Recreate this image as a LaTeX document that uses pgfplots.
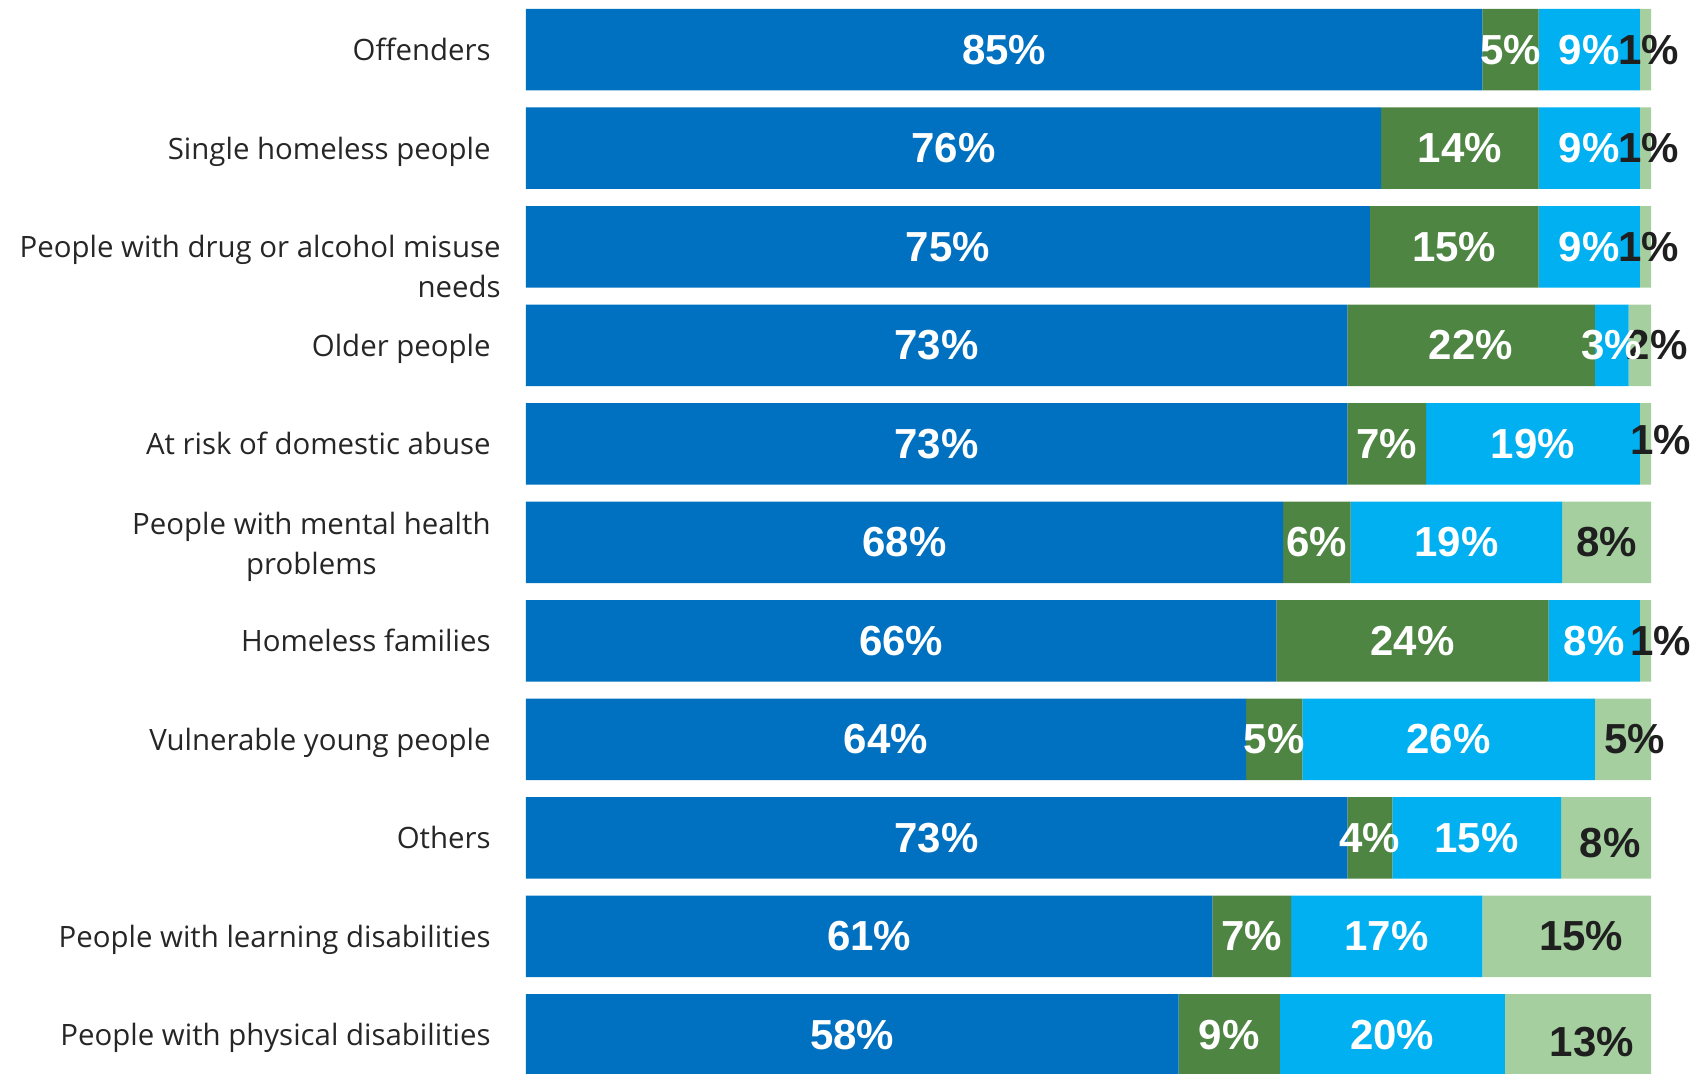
\documentclass[border=0pt]{standalone}
\usepackage{pgfplots}
\pgfplotsset{compat=1.18}
\usepackage{pgfplotstable}
\usepackage{fontspec}
\setmainfont{Open Sans}
\newfontfamily\valfont{Liberation Sans}

\definecolor{cBlue}{HTML}{0070C0}
\definecolor{cGreen}{HTML}{4E8542}
\definecolor{cLBlue}{HTML}{00B0F0}
\definecolor{cLGreen}{HTML}{A6CFA0}
\definecolor{cText}{HTML}{262626}

% v = length of the segment as drawn, lab = number printed on it
\pgfplotstableread{
y v lab
0 85 85
1 76 76
2 75 75
3 73 73
4 73 73
5 67.3 68
6 66.7 66
7 64 64
8 73 73
9 61 61
10 58 58
}\tBlue
\pgfplotstableread{
y v lab
0 5 5
1 14 14
2 15 15
3 22 22
4 7 7
5 6 6
6 24.2 24
7 5 5
8 4 4
9 7 7
10 9 9
}\tGreen
\pgfplotstableread{
y v lab
0 9 9
1 9 9
2 9 9
3 3 3
4 19 19
5 18.8 19
6 8.1 8
7 26 26
8 15 15
9 17 17
10 20 20
}\tLBlue
% dx, dy: label offsets (pt) as in the original
\pgfplotstableread{
y v lab dx dy
0 1 1 1.5 0
1 1 1 1.5 0
2 1 1 1.5 0
3 2 2 8.7 0
4 1 1 7.6 1.9
5 7.9 8 0 0
6 1 1 7.5 0
7 5 5 6 0
8 8 8 2 -2.6
9 15 15 7.3 0
10 13 13 7 -3.5
}\tLGreen

\begin{document}
\begin{tikzpicture}
\begin{axis}[
  xbar stacked,
  width=562.5pt, height=537pt, scale only axis,
  xmin=0, xmax=100, ymin=-0.505, ymax=10.398,
  y dir=reverse,
  bar width=40.75pt,
  hide x axis,
  axis y line*=left, y axis line style={draw=none},
  major tick length=0pt,
  ytick={0,...,10},
  yticklabels={
    Offenders,
    Single homeless people,
    {\raisebox{0pt}[\height][0pt]{\begin{tabular}[t]{@{}r@{\hspace{-5pt}}}People with drug or alcohol misuse\\needs\end{tabular}}},
    Older people,
    At risk of domestic abuse,
    {\begin{tabular}{@{}c@{}}People with mental health\\problems\end{tabular}},
    Homeless families,
    Vulnerable young people,
    Others,
    People with learning disabilities,
    People with physical disabilities},
  yticklabel style={font=\fontsize{14.7}{20}\selectfont, text=cText,
    anchor=base east, align=right, inner sep=0pt, xshift=-17.5pt, yshift=-5.5pt},
  clip=false,
  point meta=explicit symbolic,
  nodes near coords={\pgfplotspointmeta\%},
  every node near coord/.append style={font=\valfont\bfseries\fontsize{21}{21}\selectfont,
    text=white, inner sep=0pt},
]
\addplot[fill=cBlue, draw=none] table[x=v, y=y, meta=lab] {\tBlue};
\addplot[fill=cGreen, draw=none] table[x=v, y=y, meta=lab] {\tGreen};
\addplot[fill=cLBlue, draw=none] table[x=v, y=y, meta=lab] {\tLBlue};
\addplot[fill=cLGreen, draw=none,
  visualization depends on={\thisrow{dx} \as \dx},
  visualization depends on={\thisrow{dy} \as \dy},
  every node near coord/.append style={text=black!88, xshift=\dx pt, yshift=\dy pt}]
  table[x=v, y=y, meta=lab] {\tLGreen};
\end{axis}
\pgfresetboundingbox
\path[use as bounding box] ([xshift=-263pt]current axis.south west) rectangle ([xshift=26pt]current axis.north east);
\end{tikzpicture}
\end{document}
